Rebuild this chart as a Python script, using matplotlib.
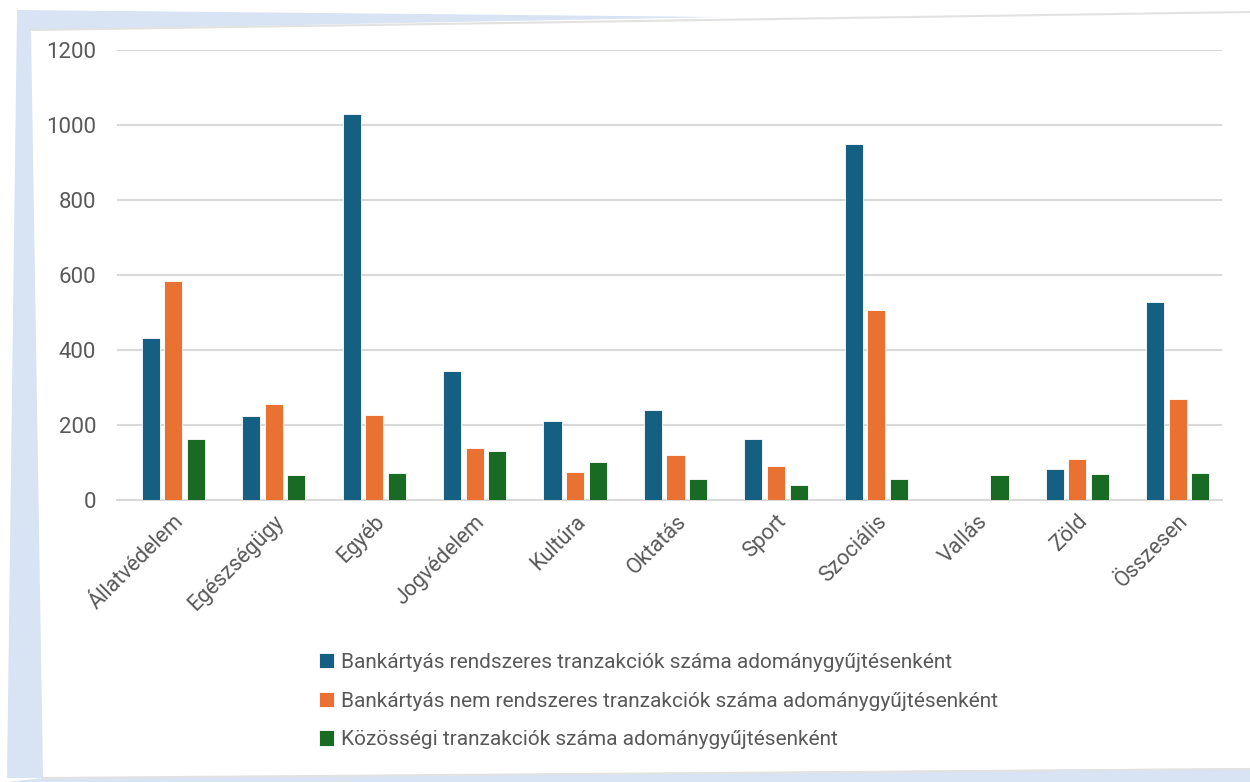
import matplotlib.pyplot as plt
from matplotlib.patches import Polygon
import numpy as np

plt.rcParams['font.family'] = ['Roboto', 'DejaVu Sans']

# Data
categories = ["Állatvédelem", "Egészségügy", "Egyéb", "Jogvédelem", "Kultúra",
              "Oktatás", "Sport", "Szociális", "Vallás", "Zöld", "Összesen"]
rendszeres = [432, 225, 1030, 345, 211, 239, 162, 950, 0, 82, 527]
nem_rendszeres = [584, 255, 226, 138, 75, 121, 90, 507, 0, 110, 269]
kozossegi = [162, 68, 73, 130, 102, 55, 41, 55, 67, 69, 71]

series_labels = [
    "Bankártyás rendszeres tranzakciók száma adománygyűjtésenként",
    "Bankártyás nem rendszeres tranzakciók száma adománygyűjtésenként",
    "Közösségi tranzakciók száma adománygyűjtésenként",
]
colors = ["#156082", "#e97132", "#196b24"]
text_col = "#595959"

W, H = 1250, 782
fig = plt.figure(figsize=(W / 100, H / 100), dpi=100)
fig.patch.set_facecolor("white")

def px(points):
    # pixel coords (from top-left) -> figure fraction
    return [(x / W, 1 - y / H) for x, y in points]

# light blue backdrop visible around the tilted card
blue = "#d8e3f3"
fig.patches.append(Polygon(px([(17, 10), (720, 17), (31, 30), (43, 778), (7, 778)]),
                           closed=True, transform=fig.transFigure, facecolor=blue,
                           edgecolor="none", zorder=0))
fig.patches.append(Polygon(px([(43, 778), (1250, 768), (1250, 782), (7, 782)]),
                           closed=True, transform=fig.transFigure, facecolor=blue,
                           edgecolor="none", zorder=0))
# card edge shadow lines
fig.lines.append(plt.Line2D([31 / W, 1250 / W], [1 - 30 / H, 1 - 12 / H],
                            transform=fig.transFigure, color="#e2e2e2", lw=1.5))
fig.lines.append(plt.Line2D([43 / W, 1250 / W], [1 - 778 / H, 1 - 769 / H],
                            transform=fig.transFigure, color="#e2e2e2", lw=1.5))

ax = fig.add_axes([117 / W, 282 / H, 1105 / W, 450 / H])
ax.set_facecolor("none")

x = np.arange(len(categories))
bw = 0.18
step = 0.225
for i, (vals, c, lab) in enumerate(zip([rendszeres, nem_rendszeres, kozossegi],
                                        colors, series_labels)):
    ax.bar(x + (i - 1) * step, vals, width=bw, color=c, label=lab,
           edgecolor="white", linewidth=0.6, zorder=3)

ax.set_xlim(-0.56, len(categories) - 0.56)
ax.set_ylim(0, 1200)
ax.set_yticks(range(0, 1201, 200))
ax.yaxis.grid(True, color="#d9d9d9", linewidth=1.5, zorder=0)
ax.set_axisbelow(True)
for s in ["top", "right", "left"]:
    ax.spines[s].set_visible(False)
ax.spines["bottom"].set_color("#d9d9d9")
ax.spines["bottom"].set_linewidth(1.5)

ax.tick_params(axis="y", length=0, pad=15, labelsize=16, labelcolor=text_col)
ax.tick_params(axis="x", length=0, pad=8, labelsize=15.5, labelcolor=text_col)
ax.set_xticks(x)
ax.set_xticklabels(categories, rotation=45, ha="right", rotation_mode="anchor")

handles, labels = ax.get_legend_handles_labels()
leg = fig.legend(handles, labels, loc="upper left",
                 bbox_to_anchor=(300 / W, 1 - 634 / H), frameon=False,
                 fontsize=15, labelcolor=text_col, handlelength=0.75,
                 handleheight=0.75, handletextpad=0.3, labelspacing=0.95)

fig.savefig("out.png", dpi=100)
